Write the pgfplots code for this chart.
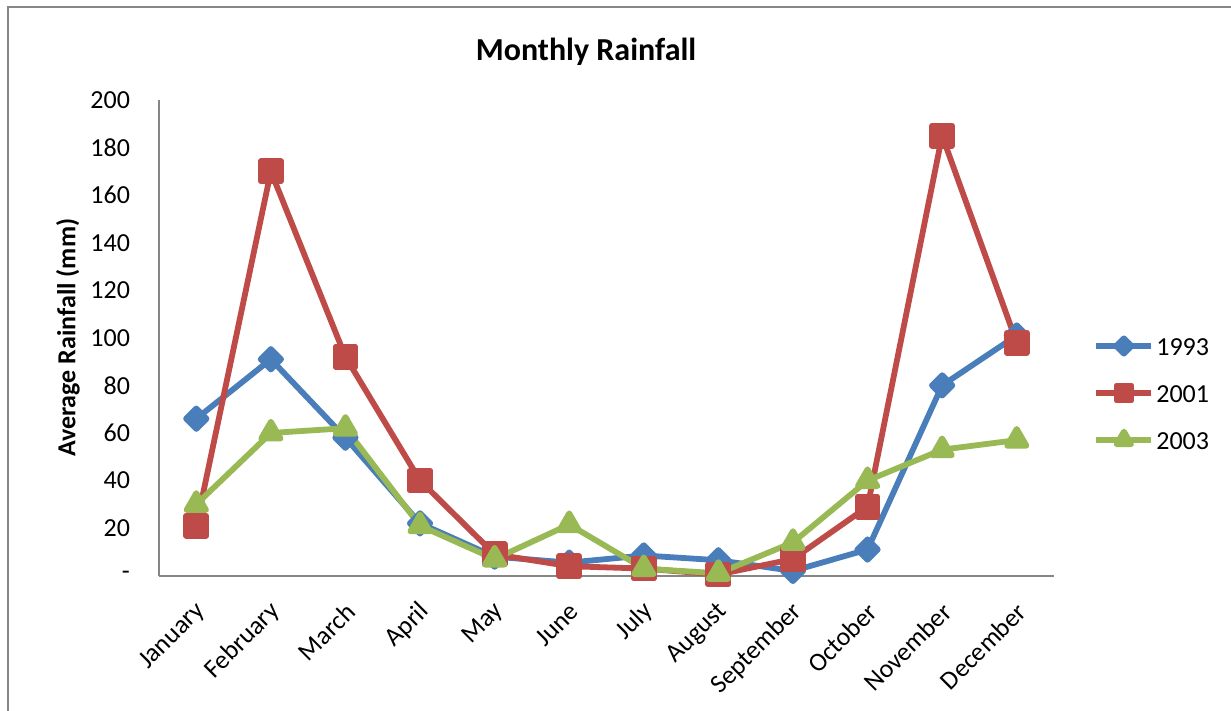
\documentclass[border=0pt]{standalone}
\usepackage{pgfplots}
\pgfplotsset{compat=1.18}
\usepackage{fontspec}
\setmainfont{Carlito}
\definecolor{cblue}{HTML}{4A7EBB}
\definecolor{cred}{HTML}{BE4B48}
\definecolor{cgreen}{HTML}{98B954}
\definecolor{cgray}{HTML}{868686}
\begin{document}
\begin{tikzpicture}
\path[use as bounding box] (0,0) rectangle (615.5pt,355.5pt);
\draw[cgray, line width=1pt] (4pt,0) -- (4pt,352pt) -- (615.5pt,352pt);
\node[font=\fontsize{16}{19}\selectfont\bfseries] at (293pt,329.5pt) {Monthly Rainfall};
\begin{axis}[
  at={(79.5pt,67.65pt)}, anchor=south west,
  width=447.5pt, height=237.85pt, scale only axis,
  xmin=-0.5, xmax=11.5, ymin=0, ymax=200,
  xtick={0,...,11},
  xticklabels={January,February,March,April,May,June,July,August,September,October,November,December},
  ytick={0,20,...,200},
  yticklabels={-\hspace{6pt},20,40,60,80,100,120,140,160,180,200},
  major tick length=0pt,
  axis x line*=bottom, axis y line*=left,
  axis line style={cgray, line width=1pt, -},
  tick label style={font=\fontsize{13}{15}\selectfont},
  yticklabel style={xshift=-11pt},
  xticklabel style={xshift=5pt, yshift=-13.5pt, rotate=45, anchor=east},
  ylabel={Average Rainfall (mm)},
  ylabel style={font=\fontsize{13}{15}\selectfont\bfseries, at={(axis description cs:-0.1017,0.5)}, anchor=center},
  clip=false,
  every axis plot/.append style={line width=2.9pt, line join=round},
  legend style={at={(rel axis cs:1.037,0.384)}, anchor=west, draw=none, fill=none,
    font=\fontsize{13}{15}\selectfont, row sep=12.5pt,
    nodes={text height=9pt, text depth=0pt, inner sep=1pt}},
  legend cell align=left,
  legend image code/.code={\draw[#1, mark repeat=2, mark phase=2, mark size=0.75*\pgfplotmarksize] plot coordinates {(0pt,0pt) (13.75pt,0pt) (27.5pt,0pt)};},
]
\addplot[cblue, mark=square*, mark size=3.6pt, mark options={rotate=45, solid}] coordinates {
(0,66) (1,91) (2,58) (3,22) (4,8) (5,5.5) (6,8.5) (7,6.5) (8,2) (9,11) (10,80) (11,101)};
\addlegendentry{1993}
\addplot[cred, mark=square*, mark size=5pt, mark options={solid}] coordinates {
(0,21) (1,170) (2,92) (3,40) (4,9) (5,4) (6,3) (7,0.5) (8,7) (9,29) (10,185) (11,98)};
\addlegendentry{2001}
\addplot[cgreen, mark=triangle*, mark size=5.6pt, mark options={solid}] coordinates {
(0,30) (1,60) (2,62) (3,21) (4,7) (5,21.5) (6,3) (7,1) (8,14) (9,40) (10,53) (11,57)};
\addlegendentry{2003}
\end{axis}
\end{tikzpicture}
\end{document}
